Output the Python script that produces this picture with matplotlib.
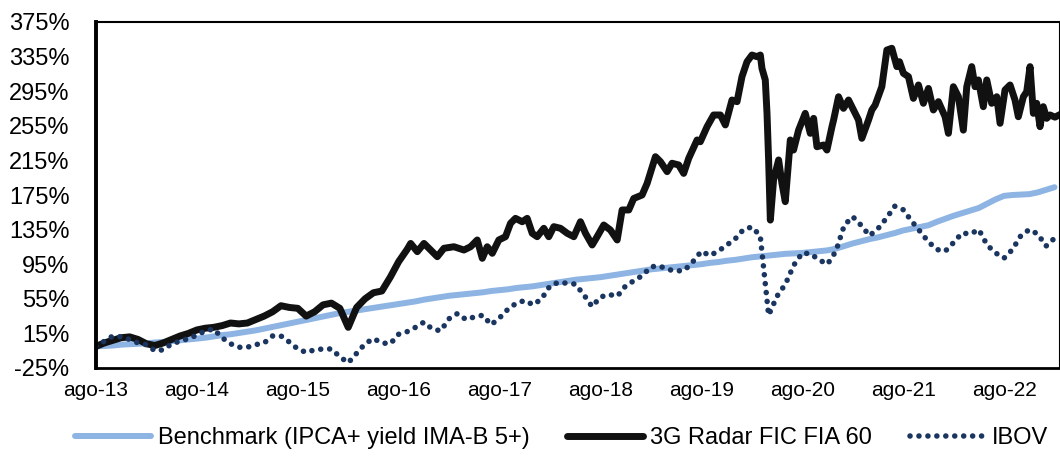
import numpy as np
import matplotlib.pyplot as plt
from matplotlib import font_manager

# Fonte estreita parecida com Calibri, se existir
nomes = {f.name for f in font_manager.fontManager.ttflist}
fonte = 'Liberation Sans Narrow' if 'Liberation Sans Narrow' in nomes else 'Liberation Sans'
plt.rcParams['font.family'] = [fonte, 'DejaVu Sans']

# Eixo x em anos decimais; grade mensal a partir de ago-13
inicio = 2013 + 7 / 12
meses = inicio + np.arange(115) / 12

# Retorno acumulado (%)
benchmark = [0, 0.5, 1, 2, 2.5, 3, 3.5, 4.5, 5, 6, 7, 8, 9, 10, 11.5, 13, 14, 15.5, 17, 18.5,
             20.5, 22.5, 24.5, 26.5, 28.5, 30.5, 32.5, 34.5, 36.5, 38.5, 40, 41.5, 43, 44.5, 46, 47.5, 49, 50.5, 52, 54,
             55.5, 57, 58.5, 59.5, 60.5, 61.5, 62.5, 64, 65, 66, 67.5, 68.5, 69.5, 71, 72.5, 74, 75.5, 77, 78, 79,
             80, 81.5, 83, 84.5, 86, 87.5, 89, 90, 91, 92, 93, 94, 95, 96.5, 97.5, 99, 100, 101.5, 103, 104,
             105, 106, 107, 107.5, 108, 109, 110, 111, 113, 116, 119, 121.5, 124, 126, 128.5, 131, 134, 136, 138, 140,
             144, 147.5, 151, 154, 157, 160, 165, 170, 174, 175, 175.5, 176, 178, 181, 184]

ibov = [0, 6, 12, 11, 8, 4, 2, -5, -4, 3, 6, 9, 13, 18, 20, 10, 3, -1, -1, 2,
        4, 12, 12, 5, -3, -7, -4, -3, -3, -12, -19, -8, 3, 9, 4, 3, 14, 17, 22, 28,
        20, 18, 32, 38, 31, 34, 36, 25, 33, 43, 50, 53, 48, 55, 70, 74, 73, 72, 60, 46,
        57, 60, 58, 70, 76, 82, 92, 93, 89, 87, 88, 98, 110, 105, 110, 117, 124, 135, 138, 128,
        36, 58, 72, 94, 108, 107, 100, 95, 110, 140, 150, 140, 128, 136, 148, 162, 158, 145, 133, 121,
        112, 110, 120, 131, 130, 135, 117, 108, 102, 112, 128, 135, 130, 116, 125]

# 3G Radar: mensal até set-16, depois leituras mais densas (ano decimal, %)
radar_ini = [0, 4, 7, 10, 11, 8, 3, 1, 4, 8, 12, 15, 19, 21, 22, 24, 27, 26, 27, 31,
             35, 40, 47, 45, 44, 35, 40, 48, 50, 44, 22, 45, 55, 62, 64, 80, 98, 112]
radar_t = [2016.702, 2016.768, 2016.834, 2016.883, 2016.966, 2017.032, 2017.131, 2017.230, 2017.296, 2017.362,
           2017.412, 2017.461, 2017.511, 2017.576, 2017.642, 2017.692, 2017.741, 2017.808, 2017.857, 2017.907,
           2017.956, 2018.022, 2018.071, 2018.121, 2018.187, 2018.254, 2018.319, 2018.385, 2018.435, 2018.501,
           2018.550, 2018.616, 2018.682, 2018.749, 2018.798, 2018.864, 2018.913, 2018.996, 2019.046, 2019.128,
           2019.178, 2019.244, 2019.293, 2019.359, 2019.408, 2019.458, 2019.541, 2019.573, 2019.640, 2019.705,
           2019.772, 2019.821, 2019.887, 2019.937, 2019.986, 2020.036, 2020.085, 2020.135, 2020.168, 2020.184,
           2020.217, 2020.234, 2020.250, 2020.267, 2020.299, 2020.349, 2020.382, 2020.415, 2020.465, 2020.497,
           2020.547, 2020.613, 2020.663, 2020.696, 2020.729, 2020.795, 2020.828, 2020.878, 2020.894, 2020.943,
           2020.992, 2021.042, 2021.091, 2021.141, 2021.174, 2021.240, 2021.273, 2021.306, 2021.372, 2021.422,
           2021.471, 2021.521, 2021.547, 2021.586, 2021.636, 2021.685, 2021.735, 2021.784, 2021.834, 2021.883,
           2021.933, 2021.999, 2022.032, 2022.081, 2022.131, 2022.180, 2022.214, 2022.263, 2022.296, 2022.329,
           2022.378, 2022.412, 2022.461, 2022.511, 2022.544, 2022.593, 2022.643, 2022.692, 2022.725, 2022.775,
           2022.808, 2022.841, 2022.874, 2022.907, 2022.940, 2022.972, 2023.006, 2023.039, 2023.088, 2023.138]
radar_fim = [119, 109.5, 119, 113.4, 103.7, 113.4, 115.2, 111.4, 115.2, 123,
             101.8, 115.2, 107.6, 123, 126.8, 142.3, 148, 144.1, 148, 130.7,
             126.8, 136.5, 126.8, 138.4, 136.5, 130.7, 126.8, 144.1, 130.7, 117.2,
             126.8, 140.3, 134.5, 123, 157.7, 157.7, 171, 175, 188.5, 219.3,
             213.5, 202, 211.7, 209.7, 200, 217.4, 238.6, 236.6, 254, 267.5,
             267.5, 256, 284.8, 282.9, 311.8, 329.1, 336.8, 334.9, 336.8, 321.4,
             308, 269.4, 215.5, 146, 192.3, 215.5, 188.5, 167.3, 238.6, 227,
             250, 269.4, 246.3, 263.6, 230.8, 232.8, 227, 254, 261.7, 288.6,
             275.2, 284.8, 273.3, 261.7, 240.5, 261.7, 273.3, 279, 300.2, 342.6,
             344.6, 323.4, 329.1, 315.7, 311.8, 286.7, 302.2, 281, 298.2, 273.3,
             282.9, 265.5, 246.3, 300.2, 288.6, 250, 300.2, 323.4, 300.2, 308,
             277.1, 308, 281, 288.6, 257.9, 296.4, 302.2, 284.8, 265.5, 288.6,
             294.4, 323.4, 269.4, 281, 254, 277.1, 263.6, 267.5, 265, 268]

yticks = list(range(-25, 376, 40))
tick_labels = ['ago-13', 'ago-14', 'ago-15', 'ago-16', 'ago-17', 'ago-18', 'ago-19', 'ago-20', 'ago-21', 'ago-22']

radar_x = list(meses[:len(radar_ini)]) + radar_t
radar = radar_ini + radar_fim

fig = plt.figure(figsize=(10.6, 4.62), dpi=100)
ax = fig.add_axes([96 / 1060, 1 - 368 / 462, 1 - 96 / 1060, (368 - 22) / 462])

ax.plot(meses, benchmark, color='#8DB4E2', lw=4.3, solid_capstyle='round',
        label='Benchmark (IPCA+ yield IMA-B 5+)')
ax.plot(radar_x, radar, color='#111111', lw=5, solid_joinstyle='round', solid_capstyle='round',
        label='3G Radar FIC FIA 60')
ax.plot(meses, ibov, color='#1A3560', lw=4, linestyle=(0, (0.01, 1.6)),
        dash_capstyle='round', label='IBOV')

ax.set_ylim(-25, 375)
ax.set_yticks(yticks)
ax.set_yticklabels([f'{v}%' for v in yticks])
ax.set_xlim(inicio, 2023.138)
ax.set_xticks([inicio + k for k in range(len(tick_labels))])
ax.set_xticklabels(tick_labels)
ax.tick_params(axis='y', length=0, pad=19, labelsize=17)
ax.tick_params(axis='x', length=0, pad=9, labelsize=15)

for lado in ['left', 'bottom', 'top', 'right']:
    ax.spines[lado].set_color('black')
ax.spines['left'].set_linewidth(2.8)
ax.spines['bottom'].set_linewidth(2)
ax.spines['top'].set_linewidth(1.5)
ax.spines['right'].set_linewidth(1.5)

fig.legend(loc='center', bbox_to_anchor=(0.53, 0.052), ncol=3, frameon=False,
           fontsize=17, handlelength=3.2, handletextpad=0.3, columnspacing=1.6)

fig.savefig('out.png', dpi=100)
